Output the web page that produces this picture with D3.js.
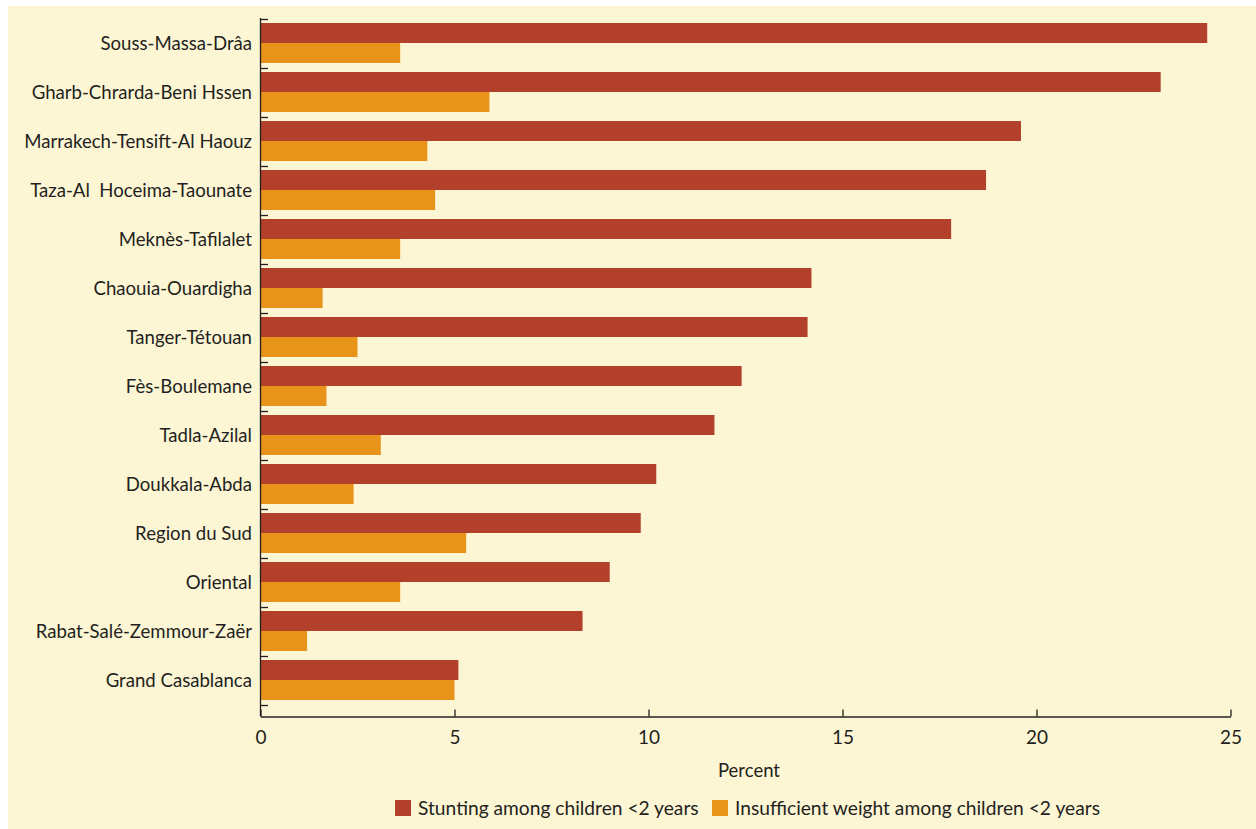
<!DOCTYPE html>
<html>
<head>
<meta charset="utf-8">
<script src="https://cdn.jsdelivr.net/npm/d3@7"></script>
<style>
  html, body { margin: 0; padding: 0; background: #ffffff; }
  svg { display: block; }
  text { font-family: Lato, "Noto Sans", sans-serif; fill: #231f20; }
</style>
</head>
<body>
<svg id="chart" width="1256" height="829"></svg>
<script>
const regions = [
  "Souss-Massa-Drâa",
  "Gharb-Chrarda-Beni Hssen",
  "Marrakech-Tensift-Al Haouz",
  "Taza-Al  Hoceima-Taounate",
  "Meknès-Tafilalet",
  "Chaouia-Ouardigha",
  "Tanger-Tétouan",
  "Fès-Boulemane",
  "Tadla-Azilal",
  "Doukkala-Abda",
  "Region du Sud",
  "Oriental",
  "Rabat-Salé-Zemmour-Zaër",
  "Grand Casablanca"
];
const stunting = [24.4, 23.2, 19.6, 18.7, 17.8, 14.2, 14.1, 12.4, 11.7, 10.2, 9.8, 9.0, 8.3, 5.1];
const underweight = [3.6, 5.9, 4.3, 4.5, 3.6, 1.6, 2.5, 1.7, 3.1, 2.4, 5.3, 3.6, 1.2, 5.0];
const seriesNames = ["Stunting among children <2 years", "Insufficient weight among children <2 years"];
const seriesColors = ["#b2402b", "#e8931a"];
const xTicks = [0, 5, 10, 15, 20, 25];
const xTitle = "Percent";

const svg = d3.select("#chart");
const W = 1256, H = 829;

svg.append("rect").attr("x", 8).attr("y", 6).attr("width", W - 8).attr("height", H - 6).attr("fill", "#fdf6d5");

const x = d3.scaleLinear().domain([0, 25]).range([260.5, 1230.5]);
const y = d3.scaleBand().domain(regions).range([19, 705]).padding(0);
const ys = d3.scaleBand().domain([0, 1]).range([4, 44]);

const rows = regions.map((r, i) => ({ region: r, vals: [stunting[i], underweight[i]] }));

const g = svg.append("g");
const rowG = g.selectAll("g.row").data(rows).join("g")
  .attr("class", "row")
  .attr("transform", d => `translate(0,${y(d.region)})`);
rowG.selectAll("rect").data(d => d.vals.map((v, k) => ({ v, k }))).join("rect")
  .attr("x", x(0))
  .attr("y", d => ys(d.k))
  .attr("width", d => x(d.v) - x(0))
  .attr("height", ys.bandwidth())
  .attr("fill", d => seriesColors[d.k]);

// Y axis: line + inward ticks at band boundaries
const axisColor = "#231f20";
svg.append("line").attr("x1", 260.5).attr("x2", 260.5).attr("y1", 18).attr("y2", 716.5)
  .attr("stroke", axisColor).attr("stroke-width", 1.3);
const bounds = regions.map(r => y(r)).concat([y.range()[1]]);
svg.selectAll("line.ytick").data(bounds).join("line")
  .attr("class", "ytick")
  .attr("x1", 260.5).attr("x2", 268)
  .attr("y1", d => Math.round(d) + 0.5).attr("y2", d => Math.round(d) + 0.5)
  .attr("stroke", axisColor).attr("stroke-width", 1.3);

svg.selectAll("text.ylab").data(regions).join("text")
  .attr("class", "ylab")
  .attr("x", 252)
  .attr("y", d => y(d) + y.bandwidth() / 2)
  .attr("dy", "0.35em")
  .attr("text-anchor", "end")
  .style("white-space", "pre")
  .style("font-size", "18.6px")
  .text(d => d);

// X axis
const xAxis = d3.axisBottom(x).tickValues(xTicks).tickSize(-7).tickPadding(14).tickSizeOuter(0);
const xg = svg.append("g").attr("transform", "translate(0,716.5)").call(xAxis);
xg.select(".domain").attr("stroke", axisColor).attr("stroke-width", 1.3);
xg.selectAll(".tick line").attr("stroke", axisColor).attr("stroke-width", 1.3);
xg.selectAll(".tick text").style("font-size", "19px").attr("fill", axisColor)
  .style("font-family", "Lato, 'Noto Sans', sans-serif");

svg.append("text").attr("x", 749).attr("y", 777).attr("text-anchor", "middle")
  .style("font-size", "18.5px").text(xTitle);

// Legend
const legendX = [395, 712];
const leg = svg.selectAll("g.leg").data(seriesNames).join("g")
  .attr("class", "leg")
  .attr("transform", (d, i) => `translate(${legendX[i]},800)`);
leg.append("rect").attr("width", 16).attr("height", 16).attr("fill", (d, i) => seriesColors[i]);
leg.append("text").attr("x", 23).attr("y", 8).attr("dy", "0.35em").style("font-size", "19.2px").text(d => d);
</script>
</body>
</html>
